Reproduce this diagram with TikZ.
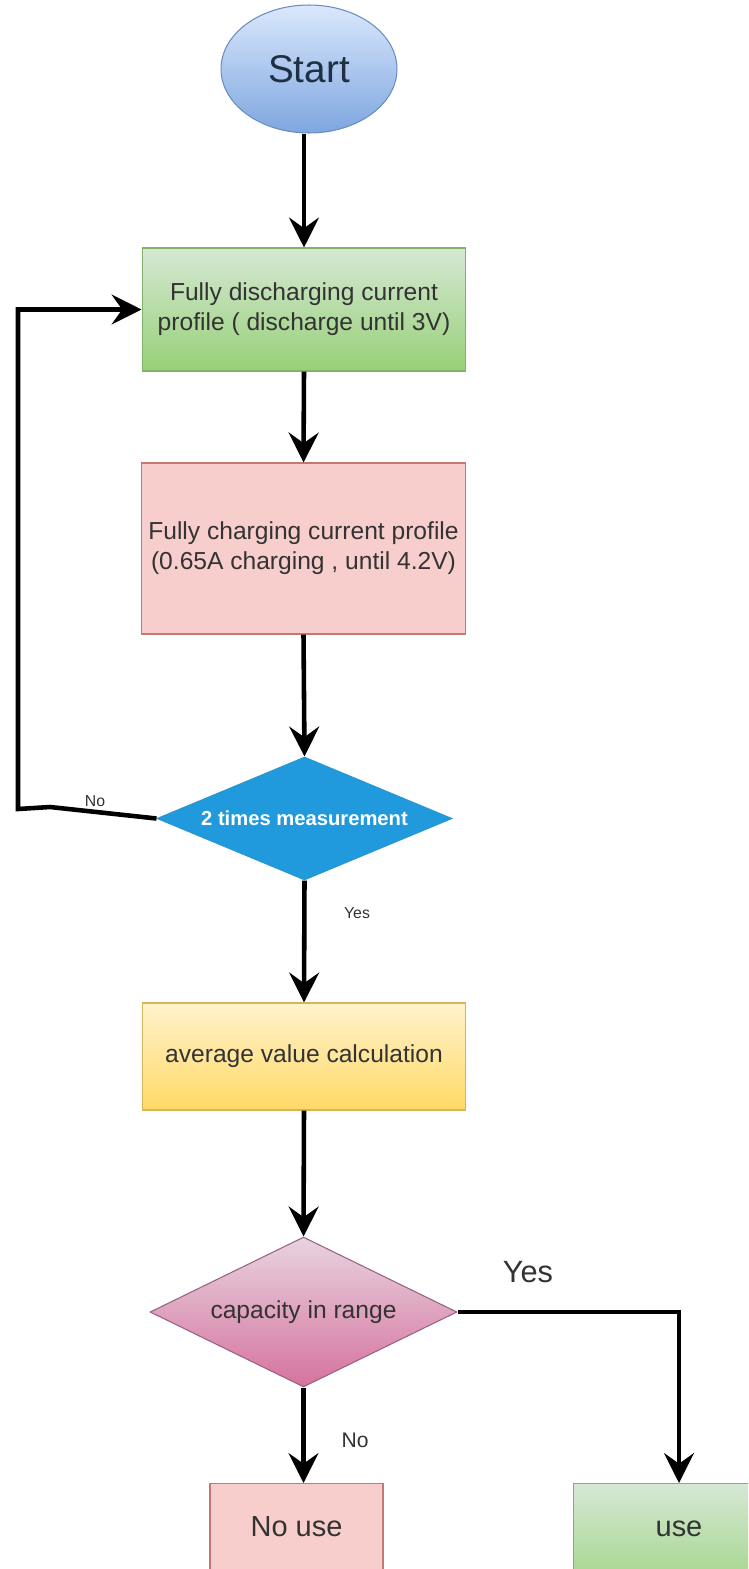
\documentclass[tikz,border=0pt]{standalone}
\usepackage{fontspec}
\setmainfont{Liberation Sans}
\usetikzlibrary{shapes.geometric,arrows.meta}

\definecolor{blueTop}{HTML}{DAE8FC}
\definecolor{blueBot}{HTML}{7EA6E0}
\definecolor{blueLine}{HTML}{6C8EBF}
\definecolor{greenTop}{HTML}{D5E8D4}
\definecolor{greenBot}{HTML}{97D077}
\definecolor{greenLine}{HTML}{82B366}
\definecolor{redFill}{HTML}{F8CECC}
\definecolor{redLine}{HTML}{C07A72}
\definecolor{yellowTop}{HTML}{FFF2CC}
\definecolor{yellowBot}{HTML}{FFD966}
\definecolor{yellowLine}{HTML}{D6B656}
\definecolor{cyanFill}{RGB}{32,154,220}
\definecolor{cyanLine}{RGB}{40,150,210}
\definecolor{mauveTop}{HTML}{E8D3E0}
\definecolor{mauveBot}{HTML}{D5739D}
\definecolor{mauveLine}{HTML}{996185}
\definecolor{inkDark}{HTML}{333333}
\definecolor{inkBlue}{HTML}{1F2F44}

\tikzset{
  base/.style={inner sep=0pt, line width=0.6pt, align=center, text=inkDark,
               font=\fontsize{14}{17}\selectfont},
  startshape/.style={base, ellipse, draw=blueLine, top color=blueTop, bottom color=blueBot,
               minimum width=3.52cm, minimum height=2.56cm, text=inkBlue,
               font=\fontsize{22}{26}\selectfont},
  greenbox/.style={base, rectangle, draw=greenLine, top color=greenTop, bottom color=greenBot},
  redbox/.style={base, rectangle, draw=redLine, fill=redFill},
  yellowbox/.style={base, rectangle, draw=yellowLine, top color=yellowTop, bottom color=yellowBot},
  cyandecision/.style={base, diamond, shape aspect=2.4, draw=cyanLine, fill=cyanFill,
               text=white, font=\fontsize{11.5}{14}\selectfont\bfseries},
  mauvedecision/.style={base, diamond, shape aspect=2.4, draw=mauveLine,
               top color=mauveTop, bottom color=mauveBot},
  endbox/.style={minimum height=2.6cm, anchor=north, font=\fontsize{16.5}{20}\selectfont,
               text height=1.06cm, text depth=1.54cm},
  flow/.style={line width=2.6pt, -{Stealth[length=17pt, width=17pt, inset=6pt]}},
  lbl/.style={inner sep=0pt, text=inkDark},
}

\begin{document}
\begin{tikzpicture}[x=0.02cm, y=-0.02cm]
  \useasboundingbox (0,0) rectangle (748,1569);
  \clip (0,0) rectangle (748,1569);

  % nodes
  \node[startshape] (start) at (309,69) {Start};
  \node[greenbox, minimum width=6.48cm, minimum height=2.46cm] (discharge) at (304,309.5)
    {Fully discharging current\\profile ( discharge until 3V)};
  \node[redbox, minimum width=6.5cm, minimum height=3.42cm] (charge) at (303.5,548.5)
    {Fully charging current profile\\(0.65A charging , until 4.2V)};
  \node[cyandecision, minimum width=5.9cm, minimum height=2.46cm] (twice) at (304.5,818.5)
    {2 times measurement};
  \node[yellowbox, minimum width=6.48cm, minimum height=2.14cm] (average) at (304,1056.5)
    {average value calculation};
  \node[mauvedecision, minimum width=6.14cm, minimum height=3.0cm] (range) at (303.5,1312)
    {capacity in range};
  \node[redbox, endbox, minimum width=3.46cm] (nouse) at (296.5,1483) {No use};
  \node[greenbox, endbox, minimum width=4.24cm] (use) at (679,1483) {use};

  % loop-back bend points
  \coordinate (bendA) at (50,807);
  \coordinate (bendB) at (18,809);

  % connectors
  \draw[flow] (start.south -| discharge.north) -- (discharge.north);
  \draw[flow] (discharge.south) -- (charge.north);
  \draw[flow] (charge.south) -- (twice.north);
  \draw[flow] (twice.south) -- (average.north);
  \draw[flow] (average.south) -- (range.north);
  \draw[flow, line join=miter] (twice.west) -- (bendA) -- (bendB) |- (discharge.west);
  \draw[flow] (range.south) -- (range.south |- nouse.north);
  \draw[flow, line join=miter] (range.east) -| (use.north);

  % branch labels
  \node[lbl, font=\fontsize{9}{11}\selectfont] (noA) at (95,801) {No};
  \node[lbl, font=\fontsize{9}{11}\selectfont] (yesA) at (357,913) {Yes};
  \node[lbl, font=\fontsize{17.5}{21}\selectfont] (yesB) at (528,1272) {Yes};
  \node[lbl, font=\fontsize{12}{14}\selectfont] (noB) at (355,1440) {No};
\end{tikzpicture}
\end{document}
